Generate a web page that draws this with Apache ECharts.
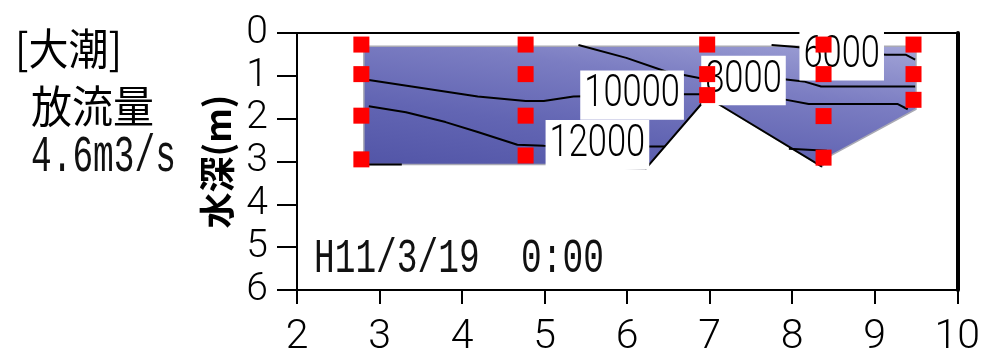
<!DOCTYPE html>
<html>
<head>
<meta charset="utf-8">
<script src="https://cdn.jsdelivr.net/npm/echarts@6/dist/echarts.min.js"></script>
<style>
  html, body { margin: 0; padding: 0; background: #fff; }
  #chart { width: 983px; height: 358px; }
</style>
</head>
<body>
<div id="chart"></div>
<script>
// Cross-section of the channel: distance (x) against water depth (m)
const xTickValues = [2, 3, 4, 5, 6, 7, 8, 9, 10];
const depthTickValues = [0, 1, 2, 3, 4, 5, 6];

// Sampling points
const sampleX     = [2.78, 2.78, 2.78, 2.78, 4.77, 4.77, 4.77, 4.77, 6.97, 6.97, 6.97, 8.38, 8.38, 8.38, 8.38, 9.47, 9.47, 9.47];
const sampleDepth = [0.27, 0.96, 1.93, 2.95, 0.27, 0.96, 1.93, 2.86, 0.27, 0.96, 1.45, 0.27, 0.96, 1.94, 2.91, 0.27, 0.96, 1.56];

// Outline of the wetted section
const sectionX     = [2.81, 9.50, 9.50, 8.45, 8.36, 6.97, 6.22, 5.02, 2.81];
const sectionDepth = [0.31, 0.31, 1.78, 2.88, 3.12, 1.50, 3.18, 3.07, 3.07];

// Bed edges drawn in black around the central ridge
const ridgeX     = [6.22, 6.97, 8.36];
const ridgeDepth = [3.18, 1.50, 3.12];

// Contour lines
const c6000X      = [7.75, 8.02, 8.62, 9.14, 9.38, 9.49];
const c6000Depth  = [0.28, 0.32, 0.44, 0.51, 0.51, 0.62];
const c8000X      = [5.41, 5.99, 6.47, 6.95, 7.90, 8.14, 8.35, 9.49];
const c8000Depth  = [0.28, 0.58, 0.90, 1.08, 1.08, 1.13, 1.25, 1.25];
const c10000X     = [2.81, 3.39, 4.19, 4.77, 4.99, 5.35, 6.68, 6.97, 7.90, 8.20, 9.28, 9.40];
const c10000Depth = [1.08, 1.25, 1.48, 1.59, 1.59, 1.48, 1.43, 1.43, 1.55, 1.66, 1.66, 1.78];
const c12000aX     = [2.87, 3.32, 3.80, 4.19, 4.67, 4.99, 5.63, 6.46];
const c12000aDepth = [1.71, 1.85, 2.08, 2.31, 2.61, 2.63, 2.65, 2.65];
const c12000bX     = [7.96, 8.42];
const c12000bDepth = [2.70, 2.75];
const c14000X     = [2.87, 3.27];
const c14000Depth = [3.07, 3.07];

// Contour labels
const contourLabelValue = [6000, 8000, 10000, 12000];
const contourLabelX     = [8.60, 7.41, 6.06, 5.64];
const contourLabelDepth = [0.53, 1.11, 1.45, 2.61];

const pair = (xs, ys) => xs.map((x, i) => [x, ys[i]]);

const MONO = "'Liberation Mono', 'DejaVu Sans Mono', monospace";
const CJK = "'Noto Sans CJK JP', 'Noto Sans CJK SC', sans-serif";

function contourSeries(xs, ys) {
  return {
    type: 'line',
    data: pair(xs, ys),
    showSymbol: false,
    symbol: 'none',
    silent: true,
    z: 3,
    lineStyle: { color: '#000', width: 2 }
  };
}

const chart = echarts.init(document.getElementById('chart'), null, { renderer: 'canvas' });

const option = {
  animation: false,
  backgroundColor: '#fff',
  grid: {
    left: 297, right: 18, top: 33, bottom: 65,
    show: true, borderColor: '#000', borderWidth: 2, backgroundColor: 'transparent'
  },
  xAxis: {
    type: 'value',
    min: xTickValues[0],
    max: xTickValues[xTickValues.length - 1],
    interval: 1,
    splitLine: { show: false },
    axisLine: { show: true, onZero: false, lineStyle: { color: '#000', width: 2 } },
    axisTick: { show: true, inside: false, length: 14, lineStyle: { color: '#000', width: 2 } },
    axisLabel: {
      color: '#000', fontFamily: 'Roboto', fontWeight: 300, fontSize: 41, margin: 27,
      formatter: v => String(v)
    }
  },
  yAxis: [{
    type: 'value',
    inverse: true,
    min: depthTickValues[0],
    max: depthTickValues[depthTickValues.length - 1],
    interval: 1,
    name: '水深(m)',
    nameLocation: 'middle',
    nameGap: 60,
    nameTextStyle: { color: '#000', fontFamily: CJK, fontWeight: 'bold', fontSize: 36 },
    splitLine: { show: false },
    axisLine: { show: true, onZero: false, lineStyle: { color: '#000', width: 2 } },
    axisTick: { show: true, inside: false, length: 20, lineStyle: { color: '#000', width: 2 } },
    axisLabel: {
      color: '#000', fontFamily: 'Roboto', fontWeight: 300, fontSize: 39, margin: 29,
      formatter: v => String(v)
    }
  }, {
    type: 'value',
    inverse: true,
    position: 'right',
    min: depthTickValues[0],
    max: depthTickValues[depthTickValues.length - 1],
    interval: 1,
    splitLine: { show: false },
    axisLine: { show: true, onZero: false, lineStyle: { color: '#000', width: 4 } },
    axisTick: { show: false },
    axisLabel: { show: false }
  }],
  series: [
    {
      // Filled section, shaded from light (surface, right bank) to dark (deep, left)
      type: 'custom',
      silent: true,
      z: 1,
      data: [0],
      renderItem: function (params, api) {
        const pts = sectionX.map((x, i) => api.coord([x, sectionDepth[i]]));
        const a = api.coord([9.5, 0.3]);
        const b = api.coord([9.15, 5.24]);
        return {
          type: 'polygon',
          shape: { points: pts },
          style: {
            fill: new echarts.graphic.LinearGradient(a[0], a[1], b[0], b[1], [
              { offset: 0, color: '#a2a4d7' },
              { offset: 0.3, color: '#7b7dc2' },
              { offset: 0.6, color: '#6265b3' },
              { offset: 0.9, color: '#5255a7' },
              { offset: 1, color: '#4d50a4' }
            ], true),
            stroke: '#a9a9b4',
            lineWidth: 1.5
          }
        };
      }
    },
    Object.assign(contourSeries(ridgeX, ridgeDepth), { z: 2 }),
    contourSeries(c6000X, c6000Depth),
    contourSeries(c8000X, c8000Depth),
    contourSeries(c10000X, c10000Depth),
    contourSeries(c12000aX, c12000aDepth),
    contourSeries(c12000bX, c12000bDepth),
    contourSeries(c14000X, c14000Depth),
    {
      // Contour value labels on white boxes
      type: 'custom',
      silent: true,
      z: 5,
      data: pair(contourLabelX, contourLabelDepth),
      renderItem: function (params, api) {
        const p = api.coord([api.value(0), api.value(1)]);
        return {
          type: 'text',
          x: p[0],
          y: p[1],
          scaleY: 1.3,
          style: {
            text: String(contourLabelValue[params.dataIndex]),
            font: '300 34.5px Roboto',
            fill: '#000',
            align: 'center',
            verticalAlign: 'middle',
            textAlign: 'center',
            textVerticalAlign: 'middle',
            backgroundColor: '#fff',
            padding: [2, 4, 1, 4]
          }
        };
      }
    },
    {
      type: 'scatter',
      data: pair(sampleX, sampleDepth),
      symbol: 'rect',
      symbolSize: 16,
      z: 10,
      silent: true,
      itemStyle: { color: '#ff0000', opacity: 1 }
    }
  ],
  graphic: [
    {
      type: 'text', x: 15, y: 49, scaleY: 1.08, z: 20,
      style: { text: '[大潮]', font: '40px ' + CJK, fill: '#000', align: 'left', verticalAlign: 'middle', textAlign: 'left', textVerticalAlign: 'middle' }
    },
    {
      type: 'text', x: 31, y: 106, scaleY: 1.08, z: 20,
      style: { text: '放流量', font: '41px ' + CJK, fill: '#000', align: 'left', verticalAlign: 'middle', textAlign: 'left', textVerticalAlign: 'middle' }
    },
    {
      type: 'text', x: 31, y: 157, scaleY: 1.5, z: 20,
      style: { text: '4.6m3/s', font: '34.5px ' + MONO, fill: '#111', align: 'left', verticalAlign: 'middle', textAlign: 'left', textVerticalAlign: 'middle' }
    },
    {
      type: 'text', x: 314, y: 259, scaleY: 1.38, z: 20,
      style: { text: 'H11/3/19  0:00', font: '34.5px ' + MONO, fill: '#111', align: 'left', verticalAlign: 'middle', textAlign: 'left', textVerticalAlign: 'middle' }
    }
  ]
};

chart.setOption(option);
</script>
</body>
</html>
